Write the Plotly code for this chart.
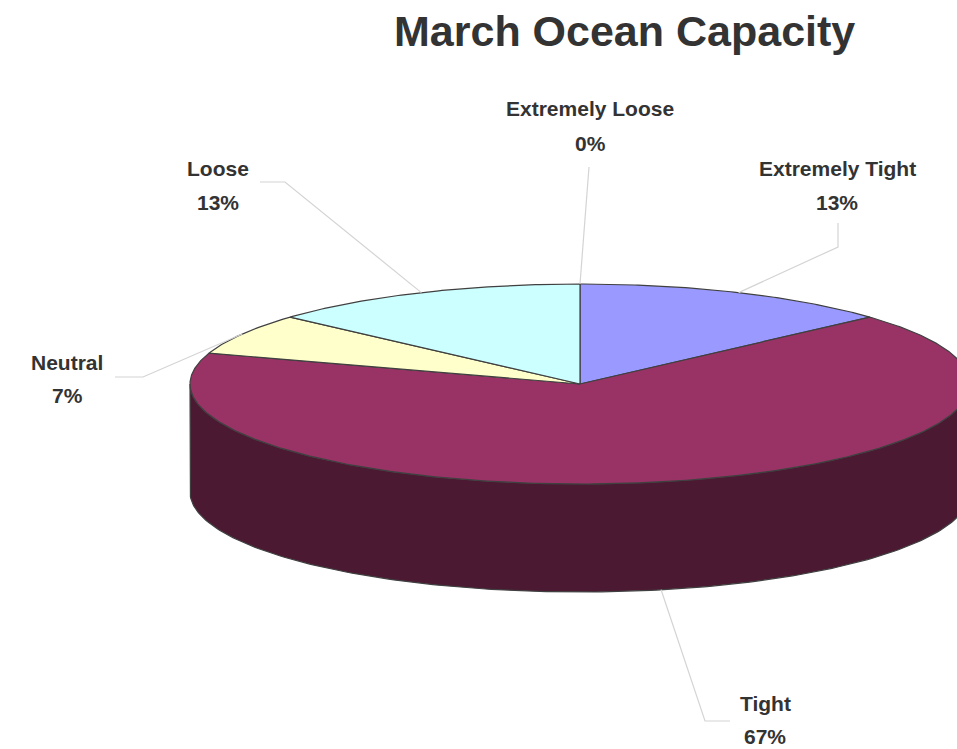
import numpy as np
import plotly.graph_objects as go

# ---------------- data ----------------
categories = ["Extremely Tight", "Tight", "Neutral", "Loose", "Extremely Loose"]
values = [2, 10, 1, 2, 0]
colors = ["#9999FF", "#993366", "#FFFFCC", "#CCFFFF", "#660066"]
title_text = "March Ocean Capacity"

# ---------------- layout / geometry (pixels) ----------------
W, H = 957, 749
CX, CY, RX, RY, DEPTH = 580, 384, 390, 100, 108
OUTLINE = "#404040"
LEADER = "#d4d4d4"
TEXT = "#333333"
FONT = "Liberation Sans"

# label text centre (x, y of name line, y of percent line) and leader elbow points
label_layout = {
    "Extremely Tight": dict(x=837, y1=168, y2=202, leader=[(838, 223), (838, 247)]),
    "Tight": dict(x=765, y1=703, y2=736, leader=[(730, 721), (705, 721)]),
    "Neutral": dict(x=67, y1=362, y2=395, leader=[(115, 377), (143, 377)]),
    "Loose": dict(x=218, y1=168, y2=202, leader=[(260, 182), (285, 182)]),
    "Extremely Loose": dict(x=590, y1=108, y2=143, leader=[(589, 167)]),
}


def pt(theta_deg, dy=0.0):
    t = np.radians(theta_deg)
    return CX + RX * np.sin(t), CY - RY * np.cos(t) + dy


def darken(hex_color, f=0.5):
    h = hex_color.lstrip("#")
    r, g, b = (int(h[i:i + 2], 16) for i in (0, 2, 4))
    return "#%02x%02x%02x" % (int(r * f), int(g * f), int(b * f))


total = sum(values)
fractions = [v / total for v in values]
starts = np.concatenate([[0], np.cumsum(fractions)[:-1]]) * 360
ends = np.cumsum(fractions) * 360

fig = go.Figure()

# side walls (front half: angles 90..270 clockwise from top)
for cat, v, c, a0, a1 in zip(categories, values, colors, starts, ends):
    if v <= 0:
        continue
    s0, s1 = max(a0, 90), min(a1, 270)
    if s1 <= s0:
        continue
    th = np.linspace(s0, s1, 200)
    xt, yt = pt(th)
    xb, yb = pt(th[::-1], DEPTH)
    xs = np.concatenate([xt, xb, xt[:1]])
    ys = np.concatenate([yt, yb, yt[:1]])
    fig.add_trace(go.Scatter(x=xs, y=ys, mode="lines", fill="toself",
                             fillcolor=darken(c, 0.5),
                             line=dict(color=OUTLINE, width=1.2),
                             hoverinfo="skip"))

# top faces
for cat, v, c, a0, a1 in zip(categories, values, colors, starts, ends):
    if v <= 0:
        continue
    n = max(int((a1 - a0) * 2), 4)
    th = np.linspace(a0, a1, n)
    xa, ya = pt(th)
    xs = np.concatenate([[CX], xa, [CX]])
    ys = np.concatenate([[CY], ya, [CY]])
    fig.add_trace(go.Scatter(x=xs, y=ys, mode="lines", fill="toself",
                             fillcolor=c,
                             line=dict(color=OUTLINE, width=1.2),
                             hoverinfo="skip"))

# leader lines and labels
annotations = []
for cat, v, a0, a1 in zip(categories, values, starts, ends):
    lay = label_layout[cat]
    mid = (a0 + a1) / 2
    front = np.cos(np.radians(mid)) < 0
    ax, ay = pt(mid, DEPTH if front else 0)
    pts = lay["leader"] + [(ax, ay)]
    fig.add_trace(go.Scatter(x=[p[0] for p in pts], y=[p[1] for p in pts],
                             mode="lines", line=dict(color=LEADER, width=1.2),
                             hoverinfo="skip"))
    pct = f"{round(v / total * 100)}%"
    for txt, yy in ((cat, lay["y1"]), (pct, lay["y2"])):
        annotations.append(dict(x=lay["x"], y=yy, xref="x", yref="y", text=txt,
                                showarrow=False, xanchor="center", yanchor="middle",
                                font=dict(family=FONT, size=21, color=TEXT, weight="bold")))

annotations.append(dict(x=624, y=31, xref="x", yref="y", text=title_text,
                        showarrow=False, xanchor="center", yanchor="middle",
                        font=dict(family=FONT, size=43, color=TEXT, weight="bold")))

fig.update_layout(
    width=W, height=H, margin=dict(l=0, r=0, t=0, b=0),
    paper_bgcolor="white", plot_bgcolor="white", showlegend=False,
    xaxis=dict(range=[0, W], visible=False, fixedrange=True),
    yaxis=dict(range=[H, 0], visible=False, fixedrange=True),
    annotations=annotations,
)

fig.write_html("out.html")
